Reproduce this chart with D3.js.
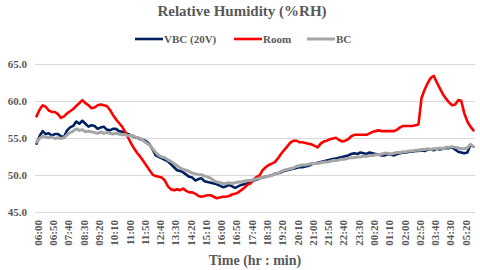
<!DOCTYPE html>
<html><head><meta charset="utf-8">
<script src="https://cdn.jsdelivr.net/npm/d3@7"></script>
<style>html,body{margin:0;padding:0;background:#fff;}svg{display:block;}</style>
</head><body>
<svg id="c" width="480" height="270"></svg>
<script>
// time categories every 10 minutes from 06:00 to 05:50 next day
const categories = [];
for (let k = 0; k < 144; k++) {
  const m = (6 * 60 + k * 10) % 1440;
  categories.push(String(Math.floor(m / 60)).padStart(2, "0") + ":" + String(m % 60).padStart(2, "0"));
}
const tickLabels = categories.filter((d, i) => i % 5 === 0);
const yTicks = [45, 50, 55, 60, 65];

const vbc = [54.2,55.2,55.9,55.5,55.6,55.3,55.5,55.5,55.2,55.1,56.0,56.4,56.6,57.2,56.9,57.3,56.9,56.5,56.7,56.6,
56.2,56.4,56.5,56.1,56.0,56.2,56.2,55.9,55.8,55.7,55.5,55.3,55.1,55.0,54.8,54.7,54.5,54.1,53.4,52.6,
52.4,52.2,52.0,51.8,51.4,51.0,50.6,50.5,50.3,50.0,49.7,49.6,49.2,49.4,49.5,49.1,49.0,48.9,48.8,48.7,
48.5,48.3,48.4,48.6,48.4,48.2,48.4,48.6,48.7,48.8,49.0,49.2,49.3,49.5,49.6,49.7,49.8,49.9,50.1,50.2,
50.3,50.5,50.6,50.7,50.8,50.9,51.0,51.0,51.1,51.2,51.4,51.5,51.6,51.7,51.8,51.9,52.0,52.1,52.2,52.3,
52.4,52.5,52.6,52.8,52.9,52.8,53.0,52.9,52.8,53.0,52.9,52.8,52.7,52.6,52.6,52.8,52.7,52.6,52.8,52.9,
53.0,53.0,53.1,53.1,53.2,53.2,53.3,53.2,53.4,53.4,53.3,53.5,53.4,53.5,53.6,53.6,53.7,53.4,53.1,53.0,
52.9,53.0,54.0,53.8];

const room = [57.9,58.8,59.4,59.2,58.7,58.5,58.5,58.2,57.7,57.9,58.3,58.6,58.9,59.3,59.7,60.1,59.7,59.4,59.0,59.1,
59.4,59.5,59.4,59.3,58.8,58.1,57.5,57.0,56.5,55.8,55.0,54.2,53.5,52.9,52.4,51.8,51.2,50.6,50.0,49.8,
49.7,49.6,49.2,48.4,48.0,47.9,48.0,47.9,48.1,47.8,47.6,47.6,47.4,47.1,47.0,47.1,47.2,47.2,47.0,46.8,
46.9,47.0,47.0,47.1,47.3,47.4,47.6,47.9,48.2,48.6,48.8,49.3,49.7,49.9,50.6,51.0,51.3,51.5,51.7,52.2,
52.8,53.3,53.8,54.3,54.6,54.6,54.4,54.4,54.3,54.2,54.1,53.9,53.7,54.2,54.5,54.6,54.8,54.9,55.0,54.7,
54.5,54.6,54.8,55.2,55.4,55.4,55.4,55.4,55.4,55.6,55.8,55.9,56.0,55.9,55.9,55.9,55.9,55.9,56.1,56.4,
56.6,56.6,56.6,56.6,56.7,56.8,60.4,61.5,62.4,63.1,63.4,62.5,61.7,60.9,60.3,59.8,59.4,59.5,60.1,60.0,
58.3,57.2,56.5,56.0];

const bc = [54.4,54.9,55.2,55.1,55.0,55.1,54.9,55.0,54.9,55.0,55.4,55.7,55.9,56.2,56.0,56.1,55.8,55.9,55.8,55.7,
55.6,55.8,55.6,55.7,55.6,55.5,55.6,55.5,55.4,55.4,55.3,55.3,55.2,55.0,54.9,54.6,54.3,54.0,53.5,53.0,
52.6,52.4,52.3,52.0,51.8,51.5,51.2,50.9,50.7,50.6,50.4,50.2,50.1,50.0,50.0,49.8,49.7,49.5,49.2,49.0,
48.9,48.8,48.8,48.9,48.8,48.9,49.0,49.0,49.1,49.2,49.2,49.3,49.4,49.5,49.6,49.7,49.8,49.9,50.1,50.2,
50.4,50.6,50.7,50.8,50.9,51.1,51.2,51.3,51.3,51.4,51.5,51.5,51.5,51.6,51.7,51.7,51.8,51.9,51.9,52.0,
52.1,52.1,52.2,52.3,52.3,52.4,52.4,52.5,52.5,52.6,52.6,52.7,52.7,52.8,52.9,52.9,52.8,52.9,53.0,53.0,
53.1,53.1,53.2,53.2,53.3,53.3,53.4,53.4,53.5,53.4,53.5,53.5,53.6,53.5,53.7,53.7,53.8,53.7,53.6,53.5,
53.5,53.6,54.1,53.8];

const seriesNames = ["VBC (20V)", "Room", "BC"];
const seriesData = [vbc, room, bc];
const seriesColors = ["#002060", "#FF0000", "#A5A5A5"];
const seriesWidths = [2.6, 2.6, 3];

const svg = d3.select("#c");
const font = "'Liberation Serif','Times New Roman',serif";
const textCol = "#595959";

const x = d3.scalePoint().domain(categories).range([35, 475]).padding(0.5);
const y = d3.scaleLinear().domain([45, 65]).range([211.5, 64]);

// gridlines
svg.append("g").selectAll("line").data(yTicks).join("line")
  .attr("x1", 35).attr("x2", 475)
  .attr("y1", d => Math.round(y(d)) + 0.5).attr("y2", d => Math.round(y(d)) + 0.5)
  .attr("stroke", "#D9D9D9").attr("stroke-width", 1);

// y axis labels
const yAxis = d3.axisLeft(y).tickValues(yTicks).tickFormat(d3.format(".1f")).tickSize(0).tickPadding(0);
const gy = svg.append("g").attr("transform", "translate(27,0)").call(yAxis);
gy.select(".domain").remove();
gy.selectAll("text").attr("font-family", font).attr("font-weight", "bold")
  .attr("font-size", "11px").attr("fill", textCol).attr("dy", "0.35em");

// x axis labels
const xAxis = d3.axisBottom(x).tickValues(tickLabels).tickSize(0).tickPadding(0);
const gx = svg.append("g").attr("transform", "translate(1,220)").call(xAxis);
gx.select(".domain").remove();
gx.selectAll("text").attr("font-family", font).attr("font-weight", "bold")
  .attr("font-size", "11px").attr("fill", textCol)
  .attr("text-anchor", "end").attr("transform", "rotate(-90)")
  .attr("x", 0).attr("y", 0).attr("dy", "0.35em");

// lines
const line = d3.line().x((d, i) => x(categories[i])).y(d => y(d));
seriesData.forEach((s, k) => {
  svg.append("path").datum(s).attr("d", line)
    .attr("fill", "none").attr("stroke", seriesColors[k])
    .attr("stroke-width", seriesWidths[k]).attr("stroke-linejoin", "round").attr("stroke-linecap", "round");
});

// title
svg.append("text").attr("x", 242).attr("y", 16).attr("text-anchor", "middle")
  .attr("font-family", font).attr("font-weight", "bold").attr("font-size", "15px")
  .attr("fill", textCol).text("Relative Humidity (%RH)");

// legend
const legX = [135, 234, 307];
seriesNames.forEach((n, k) => {
  const g = svg.append("g").attr("transform", `translate(${legX[k]},39)`);
  g.append("line").attr("x1", 0).attr("x2", 28).attr("y1", 0).attr("y2", 0)
    .attr("stroke", seriesColors[k]).attr("stroke-width", seriesWidths[k]);
  g.append("text").attr("x", 29).attr("y", 0).attr("dy", "0.35em")
    .attr("font-family", font).attr("font-weight", "bold").attr("font-size", "11px")
    .attr("fill", textCol).text(n);
});

// x axis title
svg.append("text").attr("x", 255).attr("y", 265).attr("text-anchor", "middle")
  .attr("font-family", font).attr("font-weight", "bold").attr("font-size", "14px")
  .attr("fill", textCol).text("Time (hr : min)");
</script>
</body></html>
